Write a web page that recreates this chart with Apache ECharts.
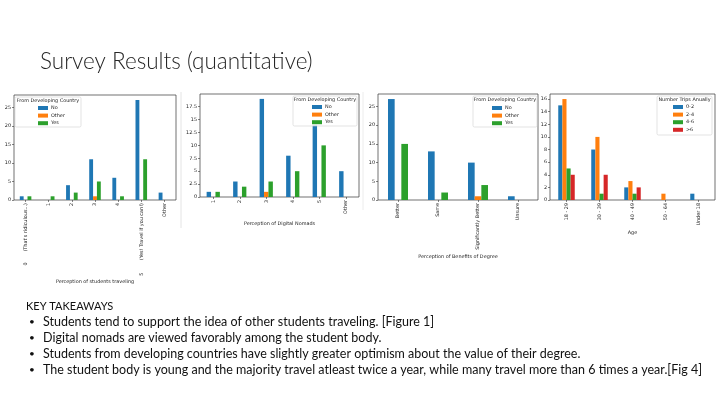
<!DOCTYPE html>
<html><head><meta charset="utf-8">
<script src="https://cdn.jsdelivr.net/npm/echarts@6/dist/echarts.min.js"></script>
<style>html,body{margin:0;padding:0;background:#fff}#c{width:720px;height:404px}</style>
</head><body><div id="c"></div>
<script>
// ---------- data ----------
const cats1 = ["0       (That's ridiculous...)", "1", "2", "3", "4", "5        (Yes! Travel if you can!)", "Other"];
const c1No = [1, 0, 4, 11, 6, 27, 2];
const c1Other = [0, 0, 0, 1, 0, 0, 0];
const c1Yes = [1, 1, 2, 5, 1, 11, 0];

const cats2 = ["1", "2", "3", "4", "5", "Other"];
const c2No = [1, 3, 19, 8, 14, 5];
const c2Other = [0, 0, 1, 0, 0, 0];
const c2Yes = [1, 2, 3, 5, 10, 0];

const cats3 = ["Better", "Same", "Significantly Better", "Unsure"];
const c3No = [27, 13, 10, 1];
const c3Other = [0, 0, 1, 0];
const c3Yes = [15, 2, 4, 0];

const cats4 = ["18 - 29", "30 - 39", "40 - 49", "50 - 64", "Under 18"];
const c4a = [15, 8, 2, 0, 1];
const c4b = [16, 10, 3, 1, 0];
const c4c = [5, 1, 1, 0, 0];
const c4d = [4, 4, 2, 0, 0];

const groupNames = ["No", "Other", "Yes"];
const tripNames = ["0-2", "2-4", "4-6", ">6"];
const axisNames = ["Perception of students traveling", "Perception of Digital Nomads", "Perception of Benefits of Degree", "Age"];
const legendTitles = ["From Developing Country", "Number Trips Anually"];
const titleText = "Survey Results (quantitative)";
const takeaways = [
  "KEY TAKEAWAYS",
  "Students tend to support the idea of other students traveling. [Figure 1]",
  "Digital nomads are viewed favorably among the student body.",
  "Students from developing countries have slightly greater optimism about the value of their degree.",
  "The student body is young and the majority travel atleast twice a year, while many travel more than 6 times a year.[Fig 4]"
];

// ---------- style ----------
const colors = ['#1f77b4', '#ff7f0e', '#2ca02c', '#d62728'];
const F = 'DejaVu Sans';
const FS = 4.9;
const grids = [
  {left: 14, top: 95, width: 162, height: 105},
  {left: 200, top: 94, width: 159, height: 103},
  {left: 378, top: 94, width: 160, height: 106},
  {left: 550, top: 94, width: 165, height: 106}
];
const yCfg = [
  {max: 28.35, interval: 5},
  {max: 19.95, interval: 2.5},
  {max: 28.35, interval: 5},
  {max: 16.8, interval: 2}
];
const nameGaps = [73, 24, 54, 30];
const catsAll = [cats1, cats2, cats3, cats4];

const xAxis = catsAll.map((c, i) => ({
  type: 'category', gridIndex: i, data: c,
  name: axisNames[i], nameLocation: 'middle', nameGap: nameGaps[i],
  nameTextStyle: {fontFamily: F, fontSize: FS, color: '#222'},
  axisLine: {show: false},
  axisTick: {show: true, alignWithLabel: true, length: 2, lineStyle: {color: '#333', width: 0.6}},
  axisLabel: {rotate: 90, fontFamily: F, fontSize: FS, color: '#222', margin: 3, interval: 0}
}));
const yAxis = yCfg.map((y, i) => ({
  type: 'value', gridIndex: i, min: 0, max: y.max, interval: y.interval,
  splitLine: {show: false}, axisLine: {show: false},
  axisTick: {show: true, length: 2, lineStyle: {color: '#333', width: 0.6}},
  axisLabel: {fontFamily: F, fontSize: FS, color: '#222', margin: 3, showMaxLabel: false}
}));

function bars(names, arrs, gi) {
  return arrs.map((d, k) => ({
    type: 'bar', name: names[k], xAxisIndex: gi, yAxisIndex: gi, data: d,
    itemStyle: {color: colors[k]}, barGap: '0%', barCategoryGap: '50%',
    emphasis: {disabled: true}
  }));
}
const series = [].concat(
  bars(groupNames, [c1No, c1Other, c1Yes], 0),
  bars(groupNames, [c2No, c2Other, c2Yes], 1),
  bars(groupNames, [c3No, c3Other, c3Yes], 2),
  bars(tripNames, [c4a, c4b, c4c, c4d], 3)
);

// legend boxes: [x, y, w, h, titleIdx, itemsLeft, itemsTop, names]
const lg = [
  [15, 97, 66, 30, 0, 38, 104.5, groupNames],
  [293, 96, 64, 30, 0, 312, 103.5, groupNames],
  [473, 96, 64, 31, 0, 492, 104.5, groupNames],
  [657, 96, 55, 39, 1, 673, 103.5, tripNames]
];
const legend = lg.map(l => ({
  data: l[7], left: l[5], top: l[6], orient: 'vertical', z: 12,
  itemWidth: 10, itemHeight: 4, itemGap: 0.6, selectedMode: false,
  textStyle: {fontFamily: F, fontSize: FS, color: '#222', lineHeight: 7, padding: [0, 0, 0, -2]},
  icon: 'rect', padding: 0
}));

const graphic = [];
lg.forEach(l => {
  graphic.push({type: 'rect', z: 10, shape: {x: l[0], y: l[1], width: l[2], height: l[3], r: 1.5},
    style: {fill: 'rgba(255,255,255,0.8)', stroke: '#d0d0d0', lineWidth: 0.6}});
  graphic.push({type: 'text', z: 11, x: l[0] + l[2] / 2, y: l[1] + 3.6,
    style: {text: legendTitles[l[4]], font: FS + 'px "' + F + '"', fill: '#222', textAlign: 'center', textVerticalAlign: 'middle'}});
});
// faint image separators
graphic.push({type: 'line', shape: {x1: 181, y1: 92, x2: 181, y2: 228}, style: {stroke: '#e4e4e4', lineWidth: 1}});
graphic.push({type: 'line', shape: {x1: 363, y1: 92, x2: 363, y2: 210}, style: {stroke: '#ececec', lineWidth: 1}});
// slide title
graphic.push({type: 'text', x: 40, y: 62, style: {text: titleText, font: '300 22.5px Lato', fill: '#262626', textVerticalAlign: 'middle'}});
// takeaways
const lineY = [306, 322, 338, 354, 370];
takeaways.forEach((t, i) => {
  if (i === 0) {
    graphic.push({type: 'text', x: 26, y: lineY[i], style: {text: t, font: '11px Lato', fill: '#111', textVerticalAlign: 'middle'}});
  } else {
    graphic.push({type: 'text', x: 29, y: lineY[i], style: {text: '\u2022', font: '10px Lato', fill: '#111', textVerticalAlign: 'middle'}});
    graphic.push({type: 'text', x: 43, y: lineY[i], style: {text: t, font: '12.5px Lato', fill: '#111', textVerticalAlign: 'middle'}});
  }
});

const chart = echarts.init(document.getElementById('c'), null, {renderer: 'canvas'});
chart.setOption({
  animation: false,
  backgroundColor: '#fff',
  grid: grids.map(g => Object.assign({show: true, borderColor: '#333', borderWidth: 0.7, backgroundColor: 'transparent'}, g)),
  xAxis, yAxis, series, legend, graphic
});
</script></body></html>
